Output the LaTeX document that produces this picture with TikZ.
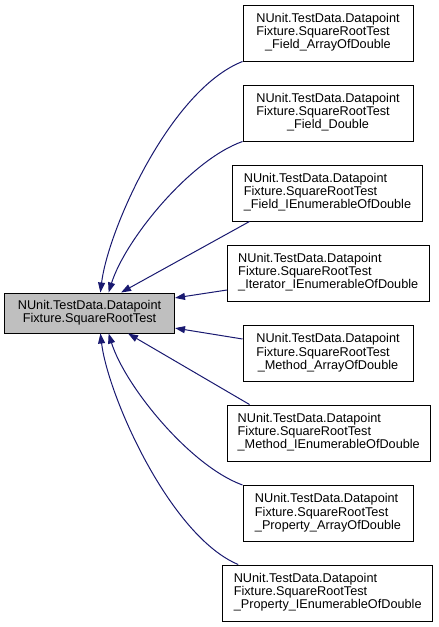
\documentclass[tikz,border=0pt]{standalone}
\usepackage{fontspec}
\setmainfont{Liberation Sans}
\usetikzlibrary{arrows.meta}
\definecolor{edgeblue}{HTML}{191970}
\definecolor{basegray}{HTML}{BFBFBF}
\newcommand\boxlbl[3]{\begin{tabular}{@{}l@{}}#1\\#2\\\multicolumn{1}{@{}c@{}}{#3}\end{tabular}}
\begin{document}
\begin{tikzpicture}[x=1pt,y=-1pt,
  box/.style={draw=black, line width=1pt, fill=white, inner sep=0pt,
    minimum height=56pt, font=\fontsize{12.7}{13.3}\selectfont},
  basebox/.style={box, fill=basegray, minimum height=40pt, minimum width=170pt},
  edge/.style={draw=edgeblue, line width=1pt, {Triangle[length=10pt,width=7pt]}-}]
\useasboundingbox (0,0) rectangle (439,627);

\node[basebox, align=center] (n0) at (89.5,313) {NUnit.TestData.Datapoint\\Fixture.SquareRootTest};

\node[box, minimum width=170pt] (b1) at (328,33) {\boxlbl{NUnit.TestData.Datapoint}{Fixture.SquareRootTest}{\_Field\_ArrayOfDouble}};
\node[box, minimum width=170pt] (b2) at (328,113) {\boxlbl{NUnit.TestData.Datapoint}{Fixture.SquareRootTest}{\_Field\_Double}};
\node[box, minimum width=190pt] (b3) at (327.5,193) {\boxlbl{NUnit.TestData.Datapoint}{Fixture.SquareRootTest}{\_Field\_IEnumerableOfDouble}};
\node[box, minimum width=201.5pt] (b4) at (328.25,273) {\boxlbl{NUnit.TestData.Datapoint}{Fixture.SquareRootTest}{\_Iterator\_IEnumerableOfDouble}};
\node[box, minimum width=170pt] (b5) at (328,353.5) {\boxlbl{NUnit.TestData.Datapoint}{Fixture.SquareRootTest}{\_Method\_ArrayOfDouble}};
\node[box, minimum width=202.5pt] (b6) at (328.75,433) {\boxlbl{NUnit.TestData.Datapoint}{Fixture.SquareRootTest}{\_Method\_IEnumerableOfDouble}};
\node[box, minimum width=170pt] (b7) at (328,513.5) {\boxlbl{NUnit.TestData.Datapoint}{Fixture.SquareRootTest}{\_Property\_ArrayOfDouble}};
\node[box, minimum width=210pt] (b8) at (327.7,593) {\boxlbl{NUnit.TestData.Datapoint}{Fixture.SquareRootTest}{\_Property\_IEnumerableOfDouble}};

\draw[edge] (n0.62) .. controls (108,230) and (170,90) .. (b1.south west);
\draw[edge] (n0.47) .. controls (125,240) and (190,160) .. (b2.south west);
\draw[edge] (n0.33) -- ([xshift=17.5pt]b3.south west);
\draw[edge] (n0.10) -- ([yshift=-17pt]b4.west);
\draw[edge] (n0.-10) -- ([yshift=14.5pt]b5.west);
\draw[edge] (n0.-28) -- ([xshift=22.5pt]b6.north west);
\draw[edge] (n0.-47) .. controls (125,386) and (190,466) .. (b7.north west);
\draw[edge] (n0.-62) .. controls (108,396) and (170,536) .. ([xshift=16pt]b8.north west);
\end{tikzpicture}
\end{document}
